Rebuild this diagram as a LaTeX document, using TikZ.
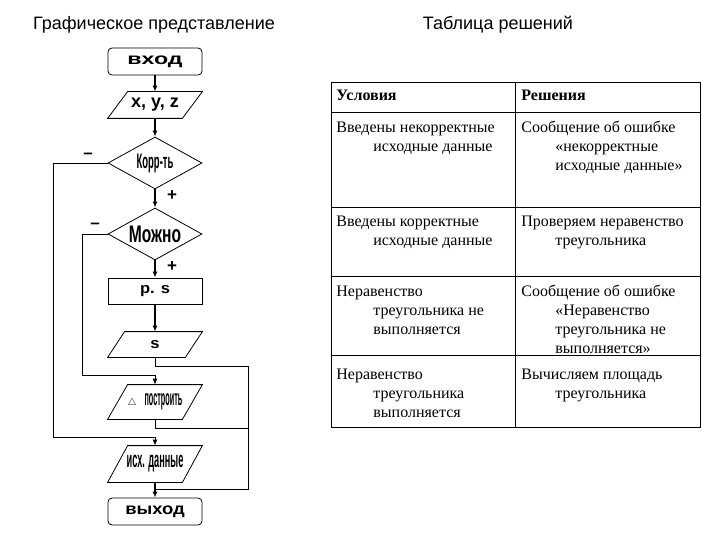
\documentclass[tikz,border=0pt]{standalone}
\usepackage{fontspec}
\setmainfont{Liberation Serif}
\setsansfont{Liberation Sans}
\newfontfamily\arialf{Liberation Sans}
\usetikzlibrary{shapes.geometric,arrows.meta}
\newcommand{\drawpar}[2]{\draw ([xshift=#2]#1.north west) -- (#1.north east) -- ([xshift=-#2]#1.south east) -- (#1.south west) -- cycle;}
\begin{document}
\begin{tikzpicture}[x=1pt,y=-1pt,
 line width=0.8pt,
 arr/.style={-{Latex[length=6pt,width=5pt]}, line width=1.5pt},
 looparr/.style={-{Latex[length=6pt,width=5pt]}, line width=0.8pt},
 term/.style={draw, rounded corners=4pt, minimum width=94pt, minimum height=27pt, inner sep=0pt},
 proc/.style={draw, minimum width=94pt, minimum height=26pt, inner sep=0pt},
 iobox/.style={minimum width=94pt, inner sep=0pt},
 decis/.style={draw, diamond, aspect=1.8, minimum width=94pt, minimum height=52pt, inner sep=0pt},
 fc/.style={font=\arialf\bfseries},
 sign/.style={font=\arialf\bfseries\fontsize{17}{17}\selectfont, inner sep=0pt},
 cell/.style={anchor=base west, align=left, inner sep=0pt, font=\fontsize{16}{19}\selectfont},
 hcell/.style={cell, font=\fontsize{16}{19}\selectfont\bfseries},
 ttl/.style={font=\arialf\fontsize{18}{20}\selectfont, inner sep=0pt}
]
\fill[white] (0,0) rectangle (720,540);
\useasboundingbox (0,0) rectangle (720,540);

% titles
\node[ttl] (t1) at (154,25) {Графическое представление};
\node[ttl] (t2) at (498,25) {Таблица решений};

% flowchart
\node[term, fc] (vhod) at (155,61.5) {\scalebox{1.45}[1]{\fontsize{16}{16}\selectfont вход}};
\node[iobox, minimum height=26pt, fc] (xyz) at (155,105) {\fontsize{18}{18}\selectfont x, y, z};
\drawpar{xyz}{20pt}
\node[decis, fc] (korr) at (155,163) {\scalebox{0.45}[1]{\fontsize{21}{21}\selectfont Корр-ть}};
\node[decis, fc] (mozhno) at (155,234) {\scalebox{0.65}[1]{\fontsize{24}{24}\selectfont Можно}};
\node[proc, fc] (ps) at (155,291) {\scalebox{1.1}[1]{\fontsize{15}{15}\selectfont p. s}};
\node[iobox, minimum height=25pt, fc] (s) at (155,344.5) {\scalebox{1.1}[1]{\fontsize{15}{15}\selectfont s}};
\drawpar{s}{17pt}
\node[iobox, minimum height=34pt, fc] (post) at (155,402) {$\triangle$\hspace{8pt}\scalebox{0.33}[1]{\fontsize{22}{22}\selectfont построить}};
\drawpar{post}{20pt}
\node[iobox, minimum height=36pt, fc] (isx) at (155,464) {\scalebox{0.4}[1]{\fontsize{23}{23}\selectfont исх. данные}};
\drawpar{isx}{20pt}
\node[term, fc] (vyh) at (155,511.5) {\scalebox{1.15}[1]{\fontsize{16}{16}\selectfont выход}};

% signs
\node[sign] (m1) at (88,156) {–};
\node[sign] (p1) at (172,196) {+};
\node[sign] (m2) at (95,226) {–};
\node[sign] (p2) at (172,267) {+};

% coordinates for loops
\coordinate (kl) at (53,437);
\coordinate (ml) at (82,375);
\coordinate (sr) at (248,366);
\coordinate (pr) at (248,428);
\coordinate (rb) at (248,489);

% connectors
\draw[arr] (vhod) -- (xyz);
\draw[arr] (xyz) -- (korr);
\draw[arr] (korr) -- (mozhno);
\draw[arr] (mozhno) -- (ps);
\draw[arr] (ps) -- (s);
\draw[arr] (isx) -- (vyh);
\draw[looparr] (korr.west) -| (kl) -| (isx.north);
\draw[looparr] (mozhno.west) -| (ml) -| (post.north);
\draw (s.south) |- (sr) -- (rb) -- (rb -| isx.south);
\draw (post.south) |- (pr);

% table
\draw (331,82) rectangle (700,427);
\draw (515,82) -- (515,427);
\foreach \yy in {112,207,276,355} \draw (331,\yy) -- (700,\yy);

% (anchor = baseline of the last line of each cell)
\node[hcell] (h1) at (336,101) {Условия};
\node[hcell] (h2) at (521,101) {Решения};
\node[cell] (c11) at (336,152) {Введены некорректные\\\hspace*{37pt}исходные данные};
\node[cell] (c12) at (521,171) {Сообщение об ошибке\\\hspace*{34pt}«некорректные\\\hspace*{34pt}исходные данные»};
\node[cell] (c21) at (336,245) {Введены корректные\\\hspace*{37pt}исходные данные};
\node[cell] (c22) at (521,245) {Проверяем неравенство\\\hspace*{34pt}треугольника};
\node[cell] (c31) at (336,334) {Неравенство\\\hspace*{37pt}треугольника не\\\hspace*{37pt}выполняется};
\node[cell] (c32) at (521,353) {Сообщение об ошибке\\\hspace*{34pt}«Неравенство\\\hspace*{34pt}треугольника не\\\hspace*{34pt}выполняется»};
\node[cell] (c41) at (336,417) {Неравенство\\\hspace*{37pt}треугольника\\\hspace*{37pt}выполняется};
\node[cell] (c42) at (521,398) {Вычисляем площадь\\\hspace*{34pt}треугольника};
\end{tikzpicture}
\end{document}
